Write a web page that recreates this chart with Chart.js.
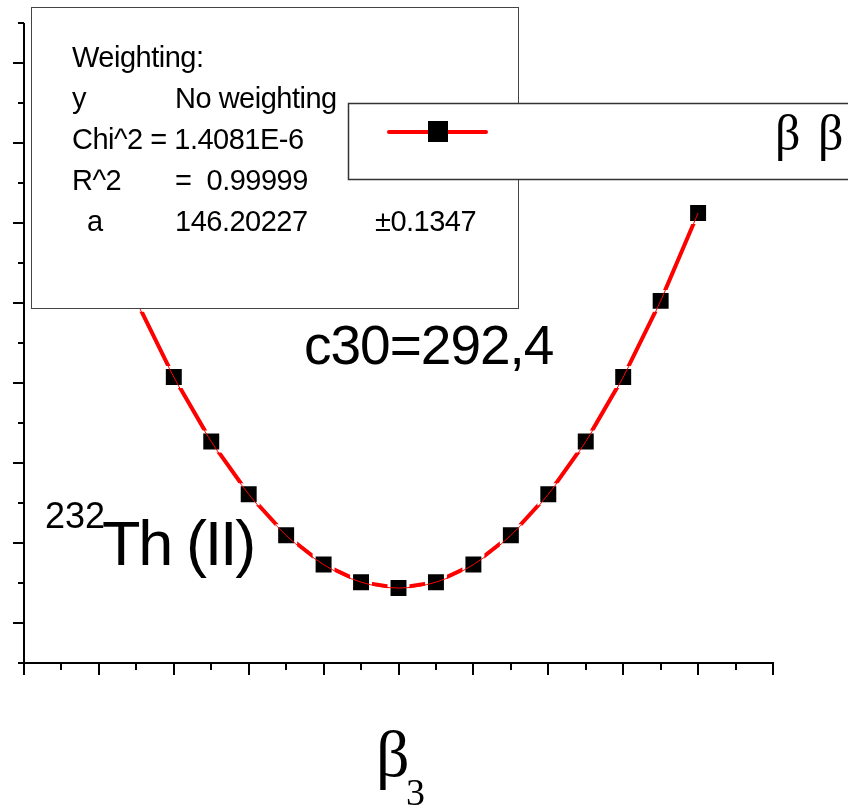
<!DOCTYPE html>
<html><head><meta charset="utf-8">
<script src="https://cdn.jsdelivr.net/npm/chart.js@4"></script>
<style>html,body{margin:0;padding:0;background:#fff}canvas{display:block}</style>
</head><body>
<canvas id="c" width="852" height="807"></canvas>
<script>
// ---- data ----
const beta3 = [-0.2, -0.175, -0.15, -0.125, -0.1, -0.075, -0.05, -0.025, 0, 0.025, 0.05, 0.075, 0.1, 0.125, 0.15, 0.175, 0.2];
const energy = [5.848, 4.478, 3.290, 2.284, 1.462, 0.822, 0.365, 0.091, 0.000, 0.091, 0.365, 0.822, 1.462, 2.284, 3.290, 4.478, 5.848];
const xLimits = [-0.25, 0.25];
const xTickStep = 0.025;          // minor step; every second tick is major
const yLimits = [-1.170, 8.812];
const yTickCount = 17;            // tick positions incl. both ends; odd indices are major
// ---- texts ----
const fitRows = [
  {label: 'Weighting:', col2: '', col3: ''},
  {label: 'y', col2: 'No weighting', col3: ''},
  {label: 'Chi^2 = 1.4081E-6', col2: '', col3: ''},
  {label: 'R^2', col2: '=  0.99999', col3: ''},
  {label: '  a', col2: '146.20227', col3: '±0.1347'}
];
const legendSymbols = ['β', 'β'];
const annotationMain = 'c30=292,4';
const isotopeMass = '232';
const isotopeName = 'Th (II)';
const xTitle = 'β';
const xTitleSub = '3';

const SANS = '"Liberation Sans", Arial, sans-serif';
const SERIF = '"Liberation Serif", "Times New Roman", serif';

const points = beta3.map((b, i) => ({x: b, y: energy[i]}));

function spaced(ctx, text, x, y, sp) {
  if ('letterSpacing' in ctx) { ctx.letterSpacing = sp + 'px'; ctx.fillText(text, x, y); ctx.letterSpacing = '0px'; return; }
  let cx = x;
  for (const ch of text) { ctx.fillText(ch, cx, y); cx += ctx.measureText(ch).width + sp; }
}

const overlay = {
  id: 'overlay',
  afterDraw(chart) {
    const ctx = chart.ctx;
    const xs = chart.scales.x, ys = chart.scales.y;
    ctx.save();
    // ---- axes ----
    ctx.strokeStyle = '#000';
    ctx.lineWidth = 2;
    const ax = Math.round(xs.getPixelForValue(xLimits[0]));
    const ay = Math.round(ys.getPixelForValue(yLimits[0]));
    const ayTop = Math.round(ys.getPixelForValue(yLimits[1]));
    const axRight = Math.round(xs.getPixelForValue(xLimits[1]));
    ctx.beginPath();
    ctx.moveTo(ax, ayTop); ctx.lineTo(ax, ay + 1);
    ctx.moveTo(ax - 1, ay); ctx.lineTo(axRight + 1, ay);
    ctx.stroke();
    // y ticks
    const yStep = (yLimits[1] - yLimits[0]) / (yTickCount - 1);
    ctx.beginPath();
    for (let i = 0; i < yTickCount; i++) {
      const py = Math.round(ys.getPixelForValue(yLimits[0] + i * yStep));
      const len = (i % 2 === 1) ? 11 : 6;
      ctx.moveTo(ax, py); ctx.lineTo(ax - len, py);
    }
    // x ticks
    const nx = Math.round((xLimits[1] - xLimits[0]) / xTickStep);
    for (let i = 0; i <= nx; i++) {
      const px = Math.round(xs.getPixelForValue(xLimits[0] + i * xTickStep));
      const len = (i % 2 === 0) ? 12 : 7;
      ctx.moveTo(px, ay); ctx.lineTo(px, ay + len);
    }
    ctx.stroke();

    // ---- fit result box ----
    ctx.fillStyle = '#fff';
    ctx.fillRect(31, 7, 488, 302);
    ctx.strokeStyle = '#444';
    ctx.lineWidth = 1;
    ctx.strokeRect(31.5, 7.5, 487, 301);
    ctx.fillStyle = '#000';
    ctx.font = '29px ' + SANS;
    ctx.textBaseline = 'alphabetic';
    const base = [67, 108, 149, 190, 231];
    fitRows.forEach((r, i) => {
      spaced(ctx, r.label, 72, base[i], -0.5);
      if (r.col2) spaced(ctx, r.col2, 175, base[i], -0.5);
      if (r.col3) spaced(ctx, r.col3, 375, base[i], -0.5);
    });

    // ---- legend box ----
    ctx.fillStyle = '#fff';
    ctx.fillRect(348, 103, 500, 77);
    ctx.strokeStyle = '#333';
    ctx.lineWidth = 1.5;
    ctx.beginPath();
    ctx.moveTo(848, 103.5); ctx.lineTo(348.5, 103.5); ctx.lineTo(348.5, 179.5); ctx.lineTo(848, 179.5);
    ctx.stroke();
    ctx.strokeStyle = '#ff0000';
    ctx.lineWidth = 4;
    ctx.lineCap = 'round';
    ctx.beginPath(); ctx.moveTo(389, 132); ctx.lineTo(486, 132); ctx.stroke();
    ctx.fillStyle = '#000';
    ctx.fillRect(428, 121, 20, 21);
    ctx.font = '50px ' + SERIF;
    ctx.fillText(legendSymbols[0], 775, 150);
    ctx.fillText(legendSymbols[1], 818, 150);

    // ---- annotations ----
    ctx.font = '55px ' + SANS;
    spaced(ctx, annotationMain, 304, 364, -1);
    ctx.font = '36px ' + SANS;
    ctx.fillText(isotopeMass, 45, 528);
    ctx.font = '63px ' + SANS;
    spaced(ctx, isotopeName, 102, 565, -2.3);

    // ---- x title ----
    ctx.font = '66px ' + SERIF;
    ctx.fillText(xTitle, 376, 776);
    ctx.font = '38px ' + SERIF;
    ctx.fillText(xTitleSub, 406, 805);
    ctx.restore();
  }
};

new Chart(document.getElementById('c'), {
  type: 'scatter',
  data: {
    datasets: [
      { // thin fitted curve on top
        data: points, showLine: true, borderColor: '#ff0000', borderWidth: 1,
        pointRadius: 0, cubicInterpolationMode: 'monotone', fill: false
      },
      { // data line with square symbols
        data: points, showLine: true, borderColor: '#ff0000', borderWidth: 4,
        tension: 0, fill: false,
        pointStyle: 'rect', pointRadius: 13.4, pointBackgroundColor: '#000',
        pointBorderColor: '#fff', pointBorderWidth: 3
      }
    ]
  },
  options: {
    responsive: false, animation: false, devicePixelRatio: 1,
    layout: { padding: { left: 24, right: 79, top: 23, bottom: 144 } },
    scales: {
      x: { type: 'linear', display: false, min: xLimits[0], max: xLimits[1] },
      y: { type: 'linear', display: false, min: yLimits[0], max: yLimits[1] }
    },
    plugins: { legend: { display: false }, tooltip: { enabled: false } }
  },
  plugins: [overlay]
});
</script>
</body></html>
